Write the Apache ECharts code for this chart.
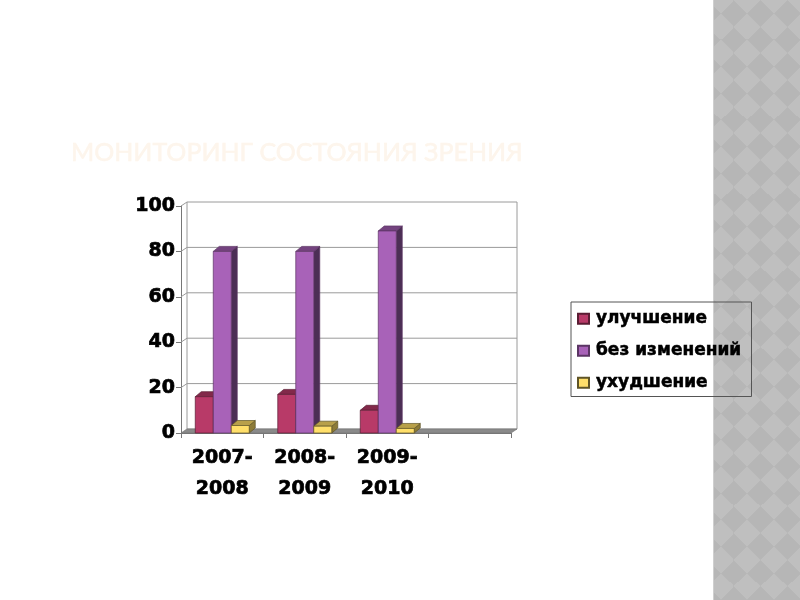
<!DOCTYPE html>
<html><head><meta charset="utf-8">
<script src="https://cdn.jsdelivr.net/npm/echarts@6/dist/echarts.min.js"></script>
<style>
html,body{margin:0;padding:0;background:#fff;width:800px;height:600px;overflow:hidden}
#panel{position:absolute;left:713px;top:0;width:87px;height:600px;background-color:#bfbfbf;border-left:1px solid #cfcfcf;box-sizing:border-box;
background-image:url("data:image/svg+xml;utf8,<svg xmlns='http://www.w3.org/2000/svg' width='26.67' height='26.67'><polygon points='13.33,0 26.67,13.33 13.33,26.67 0,13.33' fill='%23b6b6b6'/></svg>");
background-size:26.67px 26.67px;background-position:6.67px 0}
#c{position:absolute;left:0;top:0;width:800px;height:600px}
</style></head><body>
<div id="panel"></div><div id="c"></div>
<script>
const titleText = 'МОНИТОРИНГ СОСТОЯНИЯ ЗРЕНИЯ';
const categories = ['2007-\n2008','2008-\n2009','2009-\n2010',''];
const improved = [16,17,10,null];
const unchanged = [80,80,89,null];
const worse = [3.3,3,2,null];
const yTicks = [0,20,40,60,80,100];
const names = ['улучшение','без изменений','ухудшение'];
const palette = [
 {front:'#b83a68',top:'#82294a',side:'#5e1e36',line:'#5a1c33'},
 {front:'#a862b8',top:'#74437f',side:'#4c2e55',line:'#5b3564'},
 {front:'#ffdf6a',top:'#b8a04a',side:'#8d7b38',line:'#5f5426'}
];
const DX=6, DY=5, WALL_DY=4, BAR=18;
const chart = echarts.init(document.getElementById('c'),null,{renderer:'canvas'});

function bar3d(idx){
 return function(params,api){
  const v=api.value(1); if(v==null||isNaN(v)) return null;
  const c=api.coord([api.value(0),v]); const b=api.coord([api.value(0),0]);
  const x0=c[0]-BAR*1.5+idx*BAR, x1=x0+BAR, y0=c[1], y1=b[1];
  const p=palette[idx]; const ls={stroke:p.line,lineWidth:0.7};
  return {type:'group',children:[
   {type:'polygon',shape:{points:[[x1,y0],[x1+DX,y0-DY],[x1+DX,y1-DY],[x1,y1]]},style:{fill:p.side,...ls}},
   {type:'polygon',shape:{points:[[x0,y0],[x0+DX,y0-DY],[x1+DX,y0-DY],[x1,y0]]},style:{fill:p.top,...ls}},
   {type:'rect',shape:{x:x0,y:y0,width:BAR,height:y1-y0},style:{fill:p.front,...ls}}
  ]};
 };
}
function walls(params,api){
 if(params.dataIndex!==0) return null;
 const cs=params.coordSys; const l=cs.x,r=cs.x+cs.width;
 const y0=api.coord([0,0])[1], yT=api.coord([0,100])[1];
 const kids=[
  {type:'rect',shape:{x:l+DX,y:yT-WALL_DY,width:r-l,height:y0-yT},style:{fill:'#fff',stroke:'#9a9a9a',lineWidth:1}},
  {type:'polygon',shape:{points:[[l,y0],[l+DX,y0-WALL_DY],[r+DX,y0-WALL_DY],[r,y0]]},style:{fill:'#8a8a8a',stroke:'#777',lineWidth:0.7}},
  {type:'line',shape:{x1:l,y1:yT,x2:l+DX,y2:yT-WALL_DY},style:{stroke:'#9a9a9a',lineWidth:1}}
 ];
 yTicks.slice(1,-1).forEach(t=>{const y=api.coord([0,t])[1];
  kids.push({type:'polyline',shape:{points:[[l,y],[l+DX,y-WALL_DY],[r+DX,y-WALL_DY]]},style:{fill:null,stroke:'#9a9a9a',lineWidth:1}});
 });
 return {type:'group',children:kids};
}
const axisFont={color:'#000',fontFamily:'DejaVu Sans',fontWeight:'bold',fontSize:19,textBorderColor:'#000',textBorderWidth:0.7};
const mk=(i,d)=>({name:names[i],type:'custom',coordinateSystem:'cartesian2d',renderItem:bar3d(i),z:3+i,
  data:d.map((v,k)=>[k,v]),encode:{x:0,y:1},itemStyle:{color:palette[i].front,borderColor:palette[i].line,borderWidth:1},silent:true});
chart.setOption({
 animation:false,backgroundColor:'transparent',
 title:{text:titleText,left:66,top:135,textStyle:{color:'#fdf5ec',fontFamily:'Lato',fontWeight:'normal',fontSize:25,textBorderColor:'#fdf5ec',textBorderWidth:0.6}},
 grid:{left:181,top:206,width:330,height:227,containLabel:false},
 xAxis:{type:'category',data:categories,boundaryGap:true,
  axisLine:{show:true,onZero:false,lineStyle:{color:'#777',width:1}},
  axisTick:{show:true,alignWithLabel:false,length:5,lineStyle:{color:'#777'}},
  axisLabel:{...axisFont,lineHeight:31,margin:10,interval:0,hideOverlap:false},splitLine:{show:false}},
 yAxis:{type:'value',min:0,max:100,interval:20,
  axisLine:{show:true,lineStyle:{color:'#777',width:1}},
  axisTick:{show:true,length:5,lineStyle:{color:'#777'}},
  axisLabel:{...axisFont,margin:6},splitLine:{show:false}},
 legend:{orient:'vertical',left:571,top:302,data:names.map(n=>({name:n,icon:'rect'})),itemWidth:11,itemHeight:10,itemGap:14.5,padding:[8,10,5,6],
  borderColor:'#555',borderWidth:1,backgroundColor:'transparent',selectedMode:false,
  textStyle:{color:'#000',fontFamily:'DejaVu Sans',fontWeight:'bold',fontSize:17,padding:[0,0,0,2],textBorderColor:'#000',textBorderWidth:0.5}},
 series:[
  {name:'walls',type:'custom',coordinateSystem:'cartesian2d',renderItem:walls,z:1,data:[[0,0]],encode:{x:0,y:1},silent:true},
  mk(0,improved),mk(1,unchanged),mk(2,worse)
 ]
});
</script></body></html>
